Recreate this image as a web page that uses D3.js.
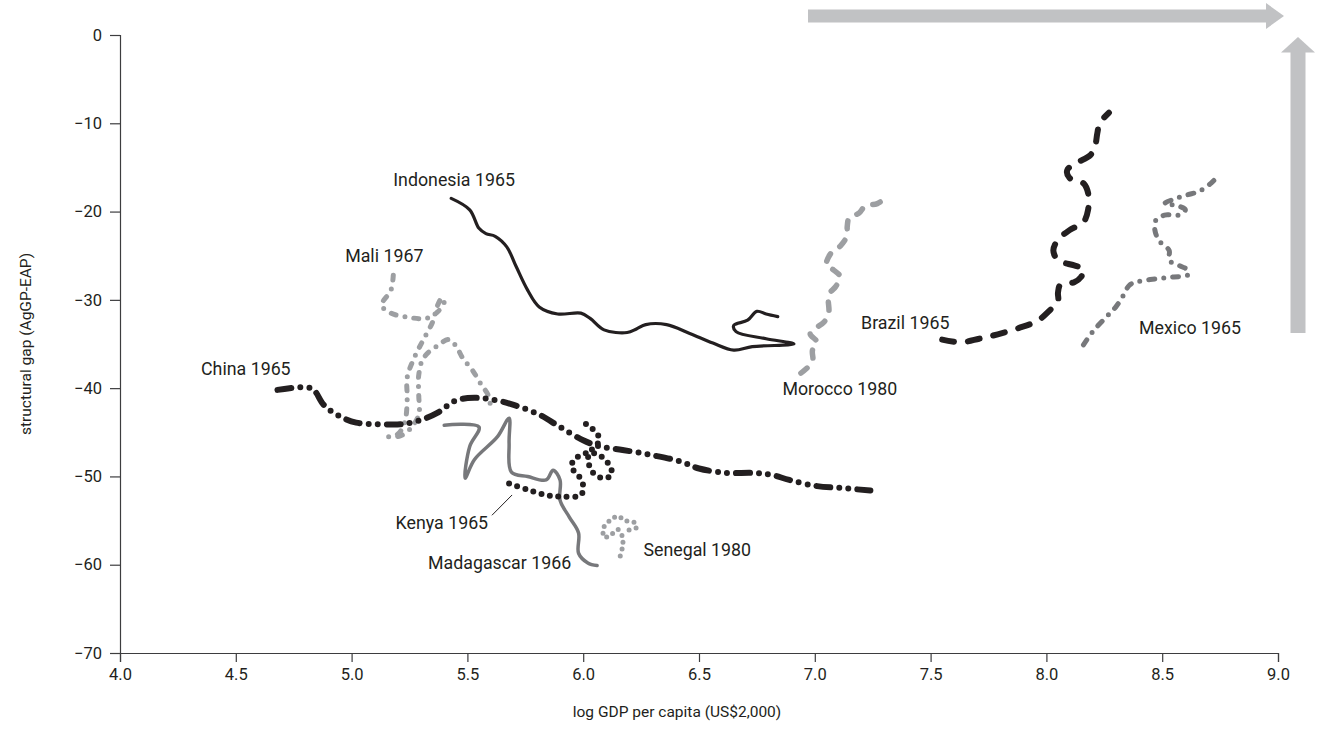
<!DOCTYPE html>
<html>
<head>
<meta charset="utf-8">
<script src="https://cdn.jsdelivr.net/npm/d3@7"></script>
<style>
  body { margin: 0; background: #fff; }
  text { font-family: Roboto, "Open Sans", sans-serif; fill: #231f20; }
</style>
</head>
<body>
<svg id="chart" width="1318" height="754"></svg>
<script>
// Axis ticks
const xTicks = [4.0, 4.5, 5.0, 5.5, 6.0, 6.5, 7.0, 7.5, 8.0, 8.5, 9.0];
const yTicks = [0, -10, -20, -30, -40, -50, -60, -70];

// Country paths: [log GDP per capita, structural gap]
const indonesia = [[5.43,-18.5],[5.51,-19.8],[5.55,-21.9],[5.58,-22.5],[5.62,-22.8],[5.67,-24.0],[5.71,-26.2],[5.76,-28.9],[5.81,-30.8],[5.89,-31.6],[5.99,-31.5],[6.03,-32.1],[6.09,-33.4],[6.19,-33.7],[6.23,-33.3],[6.27,-32.8],[6.36,-32.8],[6.46,-33.8],[6.56,-34.9],[6.65,-35.7],[6.73,-35.3],[6.91,-35.0],[6.79,-34.4],[6.66,-33.6],[6.65,-32.9],[6.71,-32.3],[6.75,-31.3],[6.79,-31.6],[6.84,-31.9]];
const china = [[4.68,-40.2],[4.81,-39.9],[4.84,-40.3],[4.88,-41.9],[4.95,-43.2],[5.02,-43.9],[5.14,-44.1],[5.21,-44.1],[5.30,-43.6],[5.37,-42.8],[5.45,-41.4],[5.53,-41.1],[5.61,-41.3],[5.70,-41.9],[5.81,-43.0],[5.90,-44.4],[6.00,-45.9],[6.07,-46.6],[6.17,-47.0],[6.30,-47.6],[6.42,-48.3],[6.50,-49.1],[6.62,-49.6],[6.73,-49.6],[6.81,-49.8],[6.89,-50.4],[7.01,-51.1],[7.11,-51.3],[7.24,-51.6]];
const mali = [[5.18,-27.2],[5.17,-28.9],[5.13,-30.6],[5.17,-31.5],[5.25,-32.0],[5.32,-32.1],[5.37,-31.4],[5.40,-30.2],[5.39,-29.8],[5.37,-30.7],[5.35,-32.5],[5.31,-34.5],[5.27,-36.6],[5.24,-38.8],[5.24,-41.3],[5.23,-43.8],[5.20,-45.2],[5.16,-45.5],[5.21,-45.4],[5.25,-44.7],[5.29,-43.0],[5.29,-40.8],[5.29,-38.5],[5.31,-36.6],[5.37,-35.2],[5.42,-34.5],[5.45,-35.2],[5.48,-36.6],[5.52,-37.9],[5.56,-39.6],[5.59,-40.8],[5.60,-42.1]];
const kenya = [[5.68,-50.8],[5.76,-51.5],[5.84,-52.1],[5.91,-52.3],[5.99,-52.1],[6.00,-51.1],[5.98,-49.9],[5.95,-49.0],[5.96,-48.1],[5.99,-47.6],[6.03,-47.3],[6.07,-47.6],[6.10,-48.3],[6.12,-49.0],[6.12,-49.9],[6.09,-50.2],[6.05,-49.8],[6.03,-49.0],[6.02,-48.1],[6.03,-47.2],[6.06,-46.4],[6.07,-45.6],[6.05,-45.0],[6.03,-44.3],[6.00,-44.0],[5.98,-44.0]];
const madagascar = [[5.40,-44.2],[5.55,-44.4],[5.51,-46.6],[5.49,-50.2],[5.53,-48.1],[5.63,-45.5],[5.68,-43.4],[5.68,-46.2],[5.69,-49.5],[5.76,-50.0],[5.84,-50.4],[5.87,-49.3],[5.90,-50.4],[5.90,-52.7],[5.94,-54.6],[5.98,-56.4],[5.98,-58.7],[6.02,-59.8],[6.06,-60.1]];
const senegal = [[6.16,-59.0],[6.17,-57.9],[6.17,-56.9],[6.15,-56.0],[6.12,-56.6],[6.09,-56.9],[6.09,-55.7],[6.12,-54.9],[6.15,-54.5],[6.18,-55.0],[6.22,-55.2],[6.23,-55.8],[6.19,-56.1]];
const morocco = [[6.94,-38.3],[6.99,-37.0],[6.99,-35.7],[7.01,-34.8],[6.98,-33.8],[7.04,-32.5],[7.06,-31.5],[7.06,-29.4],[7.09,-28.5],[7.11,-27.4],[7.08,-26.6],[7.05,-26.1],[7.07,-24.7],[7.11,-23.9],[7.14,-22.7],[7.14,-21.7],[7.15,-20.6],[7.19,-20.2],[7.22,-19.3],[7.27,-19.1],[7.32,-18.1]];
const brazil = [[7.55,-34.5],[7.63,-34.8],[7.71,-34.4],[7.79,-33.9],[7.88,-33.2],[7.96,-32.4],[8.01,-31.3],[8.05,-30.1],[8.05,-29.2],[8.06,-28.3],[8.12,-28.0],[8.15,-27.4],[8.16,-26.5],[8.12,-26.1],[8.05,-25.5],[8.03,-24.4],[8.05,-23.2],[8.10,-22.1],[8.16,-21.2],[8.18,-19.8],[8.18,-17.9],[8.16,-16.8],[8.10,-16.2],[8.09,-15.3],[8.13,-14.5],[8.19,-13.6],[8.21,-12.6],[8.22,-11.1],[8.23,-10.0],[8.27,-8.8]];
const mexico = [[8.16,-35.1],[8.20,-33.6],[8.26,-31.9],[8.30,-30.8],[8.33,-29.6],[8.36,-28.3],[8.40,-27.9],[8.48,-27.6],[8.55,-27.4],[8.61,-27.2],[8.61,-26.6],[8.58,-26.2],[8.53,-25.5],[8.53,-24.4],[8.49,-23.4],[8.47,-22.3],[8.47,-21.1],[8.51,-20.4],[8.57,-20.4],[8.60,-19.8],[8.56,-19.3],[8.51,-19.1],[8.56,-18.5],[8.61,-18.1],[8.66,-17.7],[8.71,-16.8],[8.74,-16.0]];

// Country labels: text, anchor point in data units, text-anchor
const labelText = ["Indonesia 1965", "Mali 1967", "China 1965", "Kenya 1965", "Madagascar 1966", "Senegal 1980", "Morocco 1980", "Brazil 1965", "Mexico 1965"];
const labelAt = [[5.18,-16.4],[5.31,-25.0],[4.35,-37.8],[5.19,-55.3],[5.33,-59.8],[6.26,-58.3],[6.86,-40.1],[7.20,-32.6],[8.40,-33.2]];
const labelAnchor = ["start", "end", "start", "start", "start", "start", "start", "start", "start"];

const BLACK = "#231f20", LIGHT = "#9d9fa2", MID = "#77787b", ARROW = "#c1c2c4";

const series = [
  { pts: indonesia,  color: BLACK, width: 3.2, dash: null },
  { pts: madagascar, color: MID,   width: 3.5, dash: null },
  { pts: mali,       color: LIGHT, width: 5,   dash: "5 9 0 9" },
  { pts: morocco,    color: LIGHT, width: 5.5, dash: "8 12" },
  { pts: senegal,    color: LIGHT, width: 5,   dash: "0 7" },
  { pts: mexico,     color: MID,   width: 5,   dash: "6 9 0 9" },
  { pts: kenya,      color: BLACK, width: 6,   dash: "0 8.5" },
  { pts: china,      color: BLACK, width: 6,   dash: "14 9 0 9 0 9" },
  { pts: brazil,     color: BLACK, width: 6,   dash: "12 14" }
];

const svg = d3.select("#chart");
const x = d3.scaleLinear().domain([4, 9]).range([120, 1278]);
const y = d3.scaleLinear().domain([-70, 0]).range([653, 35]);

// Axes
const xAxis = svg.append("g").attr("transform", `translate(0,${y(-70)})`)
  .call(d3.axisBottom(x).tickValues(xTicks).tickFormat(d3.format(".1f")).tickSize(9).tickPadding(6));
const yAxis = svg.append("g").attr("transform", `translate(${x(4)},0)`)
  .call(d3.axisLeft(y).tickValues(yTicks).tickFormat(d => d === 0 ? "0" : "\u2212" + Math.abs(d)).tickSize(10).tickPadding(8));
[xAxis, yAxis].forEach(g => {
  g.selectAll("path, line").attr("stroke", "#3d3d3f").attr("stroke-width", 1.2);
  g.selectAll("text").attr("font-size", 16.5).style("font-family", "Roboto, sans-serif").attr("fill", BLACK);
});

svg.append("text").attr("x", 677).attr("y", 717).attr("text-anchor", "middle")
  .attr("font-size", 15.5).text("log GDP per capita (US$2,000)");
svg.append("text").attr("transform", `translate(31,${(y(0) + y(-70)) / 2}) rotate(-90)`)
  .attr("text-anchor", "middle").attr("font-size", 15.5).text("structural gap (AgGP-EAP)");

// Direction arrows (top and right margin)
const arrows = svg.append("g").attr("fill", ARROW);
arrows.append("rect").attr("x", 808).attr("y", 9.5).attr("width", 459).attr("height", 13);
arrows.append("path").attr("d", "M1266,3 L1284,16 L1266,29 Z");
arrows.append("rect").attr("x", 1290.5).attr("y", 52).attr("width", 15).attr("height", 281);
arrows.append("path").attr("d", "M1281,52.5 L1298,37 L1315,52.5 Z");

// Country trajectories
const line = d3.line().x(d => x(d[0])).y(d => y(d[1])).curve(d3.curveCatmullRom.alpha(0.5));
svg.append("g").selectAll("path").data(series).join("path")
  .attr("d", s => line(s.pts))
  .attr("fill", "none")
  .attr("stroke", s => s.color)
  .attr("stroke-width", s => s.width)
  .attr("stroke-linecap", "round")
  .attr("stroke-linejoin", "round")
  .attr("stroke-dasharray", s => s.dash);

// Kenya leader line
svg.append("line")
  .attr("x1", x(5.606)).attr("y1", y(-54.4)).attr("x2", x(5.693)).attr("y2", y(-52.1))
  .attr("stroke", BLACK).attr("stroke-width", 1);

// Labels
svg.append("g").selectAll("text").data(labelText).join("text")
  .attr("x", (d, i) => x(labelAt[i][0]))
  .attr("y", (d, i) => y(labelAt[i][1]))
  .attr("dy", "0.35em")
  .attr("text-anchor", (d, i) => labelAnchor[i])
  .attr("font-size", 17.8)
  .text(d => d);
</script>
</body>
</html>
